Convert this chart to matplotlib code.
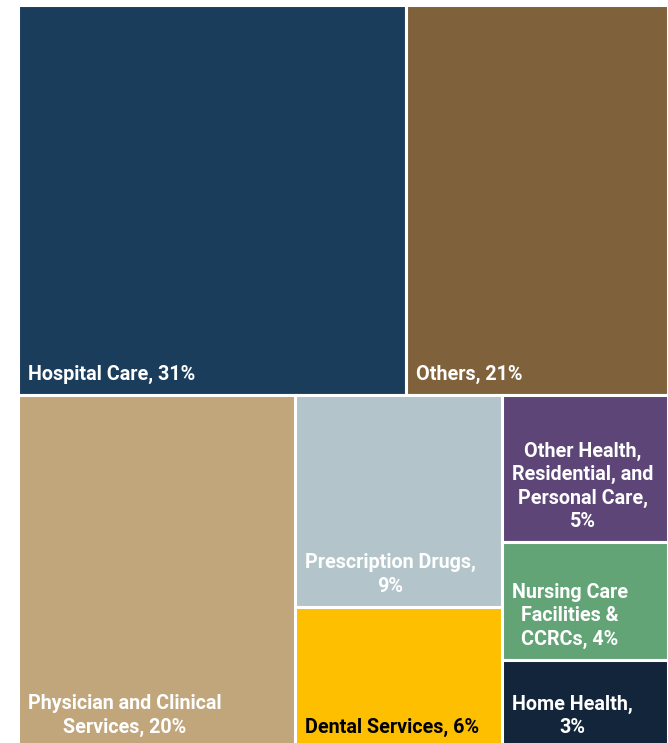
import matplotlib.pyplot as plt
from matplotlib.patches import Rectangle

# Share of spending by category (percent)
top_labels = ["Hospital Care, 31%", "Others, 21%"]
top_values = [31, 21]
top_colors = ["#1b3d5c", "#7f623b"]

# bottom row is split into columns, each column stacked top to bottom
bottom_labels = [
    ["Physician and Clinical\nServices, 20%"],
    ["Prescription Drugs,\n9%", "Dental Services, 6%"],
    ["Other Health,\nResidential, and\nPersonal Care,\n5%", "Nursing Care\nFacilities &\nCCRCs, 4%", "Home Health,\n3%"],
]
bottom_values = [[20], [9, 6], [5, 4, 3]]
bottom_colors = [
    ["#c1a57b"],
    ["#b3c5ca", "#fdbf00"],
    ["#5d4677", "#63a477", "#13253a"],
]
bottom_text_colors = [["white"], ["white", "black"], ["white", "white", "white"]]

W, H = 668, 743
fig = plt.figure(figsize=(W / 100, H / 100), dpi=100)
fig.patch.set_facecolor("white")
# treemap runs off the bottom edge a little
ax = fig.add_axes([18 / W, -5 / H, 650 / W, 743 / H])
ax.set_xlim(0, 1)
ax.set_ylim(0, 1)
ax.axis("off")

total = sum(top_values) + sum(sum(c) for c in bottom_values)
gap_lw = 2.2
font = dict(family=["Roboto", "DejaVu Sans"], fontweight="bold", fontsize=14.2)


def draw_box(x, y, w, h, color, label, tcolor="white"):
    ax.add_patch(Rectangle((x, y), w, h, facecolor=color, edgecolor="white",
                           linewidth=gap_lw))
    ax.annotate(label, xy=(x, y), xytext=(10, 11), textcoords="offset pixels",
                ha="left", va="bottom", multialignment="center",
                color=tcolor, linespacing=1.3, **font)


top_h = sum(top_values) / total
bot_h = 1 - top_h

# top row
x = 0
for v, c, lab in zip(top_values, top_colors, top_labels):
    w = v / sum(top_values)
    draw_box(x, bot_h, w, top_h, c, lab)
    x += w

# bottom row
bot_total = sum(sum(c) for c in bottom_values)
x = 0
for vals, cols, labs, tcols in zip(bottom_values, bottom_colors, bottom_labels, bottom_text_colors):
    w = sum(vals) / bot_total
    y = bot_h
    for v, c, lab, tc in zip(vals, cols, labs, tcols):
        h = bot_h * v / sum(vals)
        y -= h
        draw_box(x, y, w, h, c, lab, tc)
    x += w

fig.savefig("out.png", dpi=100, facecolor="white")
